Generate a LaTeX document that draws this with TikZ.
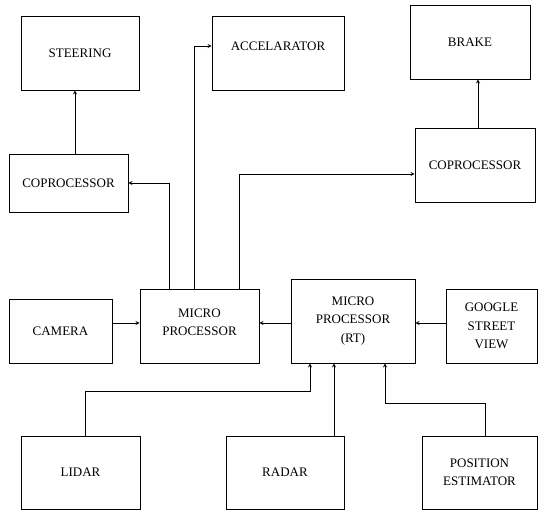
\documentclass[tikz,border=0pt]{standalone}
\usepackage{fontspec}
\setmainfont{Liberation Serif}
\usepackage{tikz}
\usetikzlibrary{shapes,arrows,positioning}

\begin{document}
\begin{tikzpicture}[
    x=1pt, y=-1pt,
    mynode/.style={draw, rectangle, align=center, text centered, inner sep=2pt,
        font=\fontsize{13}{18.5}\selectfont, line width=0.8pt},
    myedge/.style={->, line width=0.8pt, >=stealth}
]
\useasboundingbox (0,0) rectangle (538,511);

% actuators
\node[mynode, minimum width=118pt, minimum height=74pt] (steer) at (80,53) {STEERING};
\node[mynode, minimum width=132pt, minimum height=74pt, text depth=14pt] (accel) at (278,53) {ACCELARATOR};
\node[mynode, minimum width=120pt, minimum height=74pt] (brake) at (470,42) {BRAKE};
\node[mynode, minimum width=119pt, minimum height=58pt] (copL) at (68.5,183) {COPROCESSOR};
\node[mynode, minimum width=120pt, minimum height=74pt] (copR) at (475,165) {COPROCESSOR};

% processors
\node[mynode, minimum width=103pt, minimum height=64pt] (camera) at (60.5,331) {CAMERA};
\node[mynode, minimum width=119pt, minimum height=74pt, text depth=8pt] (mp) at (199.5,326) {MICRO\\PROCESSOR};
\node[mynode, minimum width=124pt, minimum height=84pt] (mprt) at (353,321) {MICRO\\PROCESSOR\\(RT)};
\node[mynode, minimum width=91pt, minimum height=74pt] (google) at (491.5,326) {GOOGLE\\STREET\\VIEW};

% sensors
\node[mynode, minimum width=119pt, minimum height=73pt] (lidar) at (80.5,472.5) {LIDAR};
\node[mynode, minimum width=118pt, minimum height=73pt] (radar) at (285,472.5) {RADAR};
\node[mynode, minimum width=115pt, minimum height=73pt] (pos) at (479.5,472.5) {POSITION\\ESTIMATOR};

\draw[myedge] ([xshift=6.5pt]copL.north) -- ([xshift=6.5pt]copL.north |- steer.south);
\draw[myedge] ([xshift=3pt]copR.north) -- ([xshift=3pt]copR.north |- brake.south);
\draw[myedge] ([xshift=-30.5pt]mp.north) |- (copL.east);
\draw[myedge] ([xshift=-5.5pt]mp.north) |- ([yshift=7pt]accel.west);
\draw[myedge] ([xshift=39.5pt]mp.north) |- ([yshift=-9pt]copR.west);

\draw[myedge] ([yshift=3pt]mp.west -| camera.east) -- ([yshift=3pt]mp.west);
\draw[myedge] ([yshift=-2pt]mprt.west) -- ([yshift=-2pt]mprt.west -| mp.east);
\draw[myedge] ([yshift=3pt]google.west) -- ([yshift=3pt]google.west -| mprt.east);

\draw[myedge] ([xshift=4.5pt]lidar.north) -- ++(0,-44) -| ([xshift=-43pt]mprt.south);
\draw[myedge] ([xshift=-19pt]mprt.south |- radar.north) -- ([xshift=-19pt]mprt.south);
\draw[myedge] ([xshift=5.5pt]pos.north) -- ++(0,-32) -| ([xshift=32pt]mprt.south);
\end{tikzpicture}
\end{document}
